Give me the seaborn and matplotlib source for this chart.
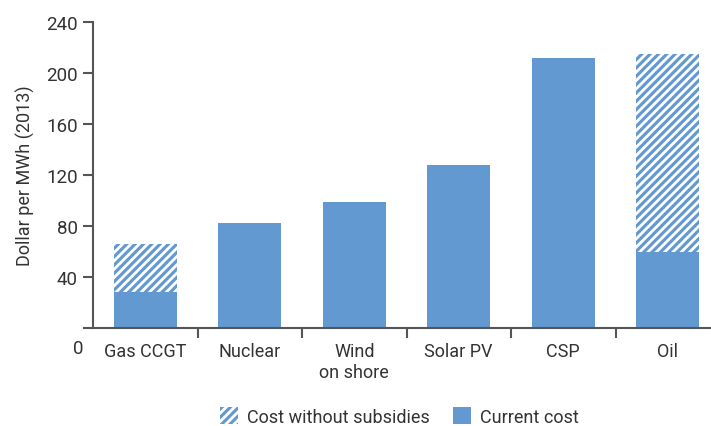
import pandas as pd
import matplotlib.pyplot as plt
import matplotlib.transforms as mtransforms
from matplotlib.patches import Patch
import seaborn as sns

# values (USD per MWh, 2013)
technologies = ["Gas CCGT", "Nuclear", "Wind\non shore", "Solar PV", "CSP", "Oil"]
current_cost = [28, 82, 99, 128, 212, 60]
cost_without_subsidies = [66, 82, 99, 128, 212, 215]
y_ticks = [0, 40, 80, 120, 160, 200, 240]

df = pd.DataFrame({"tech": technologies,
                   "current": current_cost,
                   "unsubsidised": cost_without_subsidies})

sns.set_style("white")
plt.rcParams["font.family"] = ["Roboto", "DejaVu Sans"]
plt.rcParams["hatch.linewidth"] = 2.0

blue = "#6399d1"
text_col = "#333333"
axis_col = "#555555"

fig = plt.figure(figsize=(7.11, 4.27), dpi=100)
ax = fig.add_axes([93 / 711, 98 / 427, 618 / 711, 306 / 427])

### hatched total, then solid current cost on top
sns.barplot(data=df, x="tech", y="unsubsidised", color=blue, saturation=1,
            width=0.6, hatch="////", edgecolor="white", linewidth=0, ax=ax)
sns.barplot(data=df, x="tech", y="current", color=blue, saturation=1,
            width=0.6, linewidth=0, ax=ax)

ax.set_xlim(-0.5, -0.5 + 618 / 104.5)
ax.set_ylim(0, 240)
ax.set_yticks(y_ticks)
ax.set_yticklabels([str(v) for v in y_ticks])
ax.set_xlabel("")
ax.set_ylabel("Dollar per MWh (2013)", fontsize=13, color=text_col, labelpad=8)

# tick marks sit between categories, labels at the centres
ax.set_xticks(range(len(technologies)))
ax.set_xticklabels(technologies)
ax.set_xticks([i + 0.5 for i in range(len(technologies) - 1)], minor=True)
ax.tick_params(axis="x", which="major", length=0, pad=10, labelsize=13, labelcolor=text_col)
ax.tick_params(axis="x", which="minor", length=7, width=1.5, color=axis_col, direction="out", bottom=True)
ax.tick_params(axis="y", length=7, width=1.5, color=axis_col, direction="out", left=True,
               labelsize=13.5, labelcolor=text_col, pad=4)

# the zero label in the original sits below the axis
zero_lbl = ax.get_yticklabels()[0]
zero_lbl.set_transform(zero_lbl.get_transform() +
                       mtransforms.ScaledTranslation(6 / 100, -18 / 100, fig.dpi_scale_trans))

sns.despine(ax=ax)
for s in ["left", "bottom"]:
    ax.spines[s].set_color(axis_col)
    ax.spines[s].set_linewidth(1.5)

handles = [Patch(facecolor=blue, edgecolor="white", hatch="////", linewidth=0, label="Cost without subsidies"),
           Patch(facecolor=blue, linewidth=0, label="Current cost")]
leg = fig.legend(handles=handles, loc="center", bbox_to_anchor=(0.562, 0.022), ncol=2,
                 frameon=False, fontsize=13, handlelength=1.0, handleheight=1.0,
                 handletextpad=0.5, columnspacing=1.3)
for t in leg.get_texts():
    t.set_color(text_col)

fig.savefig("out.png", dpi=100)
